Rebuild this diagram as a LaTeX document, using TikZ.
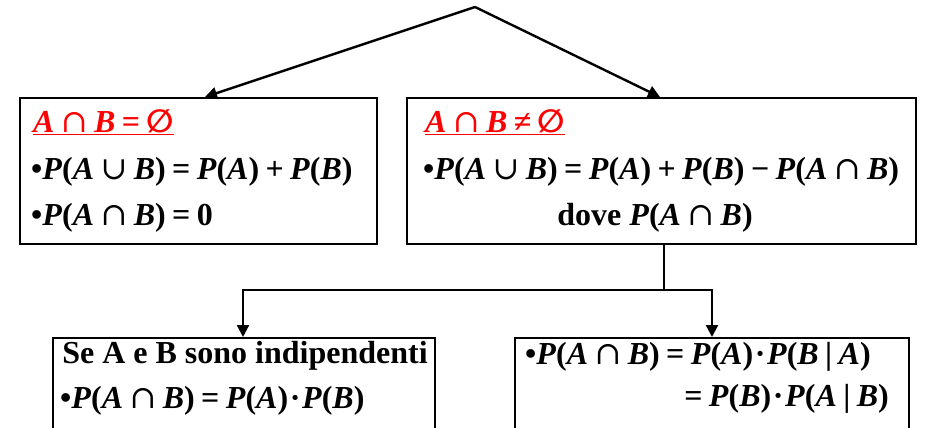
\documentclass[tikz,border=0pt]{standalone}
\usepackage{fontspec}
\setmainfont{Liberation Serif}
\newfontfamily\symf{DejaVu Serif}
\newfontfamily\symsans{DejaVu Sans}
\usetikzlibrary{arrows.meta}
\newcommand{\V}[1]{\textit{#1}}
\newcommand{\gp}{\hspace{0.2em}}
\newcommand{\Cap}{\gp{\symf\mdseries\upshape ∩}\gp}
\newcommand{\Cup}{\gp{\symf\mdseries\upshape ∪}\gp}
\newcommand{\Emp}{{\symsans\bfseries\upshape ∅}}
\newcommand{\Eq}{\gp=\gp}
\newcommand{\Dot}{\hspace{0.05em}·\hspace{0.05em}}
\tikzset{
  box/.style={draw, line width=2.4pt, inner sep=0pt, anchor=north west},
  conn/.style={line width=2.4pt, -{Triangle[length=12pt,width=12pt]}},
  txt/.style={inner sep=0pt, anchor=base west, font=\fontsize{32}{38}\selectfont\bfseries},
  ttl/.style={txt, text=red},
}
\begin{document}
\begin{tikzpicture}[x=1pt,y=-1pt]
\clip (0,0) rectangle (929,428);
\fill[white] (0,0) rectangle (929,428);
% boxes
\node[box, minimum width=357pt, minimum height=146pt] (L) at (19,97) {};
\node[box, minimum width=509pt, minimum height=146pt] (R) at (406,97) {};
\node[box, minimum width=382pt, minimum height=120pt] (BL) at (52,337) {};
\node[box, minimum width=394pt, minimum height=120pt] (BR) at (514,337) {};
% texts
\node[ttl] (Lt) at (33,132) {\underline{\V{A}\Cap\V{B}\Eq\Emp}};
\node[txt] (L1) at (31,179) {•\V{P}(\V{A}\Cup\V{B})\Eq\V{P}(\V{A})\gp+\gp\V{P}(\V{B})};
\node[txt] (L2) at (31,225) {•\V{P}(\V{A}\Cap\V{B})\Eq0};
\node[ttl] (Rt) at (425,132) {\underline{\V{A}\Cap\V{B}\gp≠\gp\Emp}};
\node[txt] (R1) at (423,179) {•\V{P}(\V{A}\Cup\V{B})\Eq\V{P}(\V{A})\gp+\gp\V{P}(\V{B})\gp−\gp\V{P}(\V{A}\Cap\V{B})};
\node[txt, anchor=base] (R2) at (655,225) {dove \V{P}(\V{A}\Cap\V{B})};
\node[txt, anchor=base] (B1) at (245,363) {Se A e B sono indipendenti};
\node[txt] (B2) at (60,408) {•\V{P}(\V{A}\Cap\V{B})\Eq\V{P}(\V{A})\Dot\V{P}(\V{B})};
\node[txt] (C1) at (525,364) {•\V{P}(\V{A}\Cap\V{B})\Eq\V{P}(\V{A})\Dot\V{P}(\V{B}\gp|\gp\V{A})};
\node[txt, anchor=base east] (C2) at (889,406) {=\gp\V{P}(\V{B})\Dot\V{P}(\V{A}\gp|\gp\V{B})};
% connectors
\coordinate (apex) at (475,7);
\coordinate (split) at (664,290);
\draw[conn] (apex) -- (205,0 |- L.north);
\draw[conn] (apex) -- (660,0 |- R.north);
\draw[line width=2.4pt] (split |- R.south) -- (split);
\draw[conn] (split) -| (243,0 |- BL.north);
\draw[conn] (split) -| (712,0 |- BR.north);
\end{tikzpicture}
\end{document}
